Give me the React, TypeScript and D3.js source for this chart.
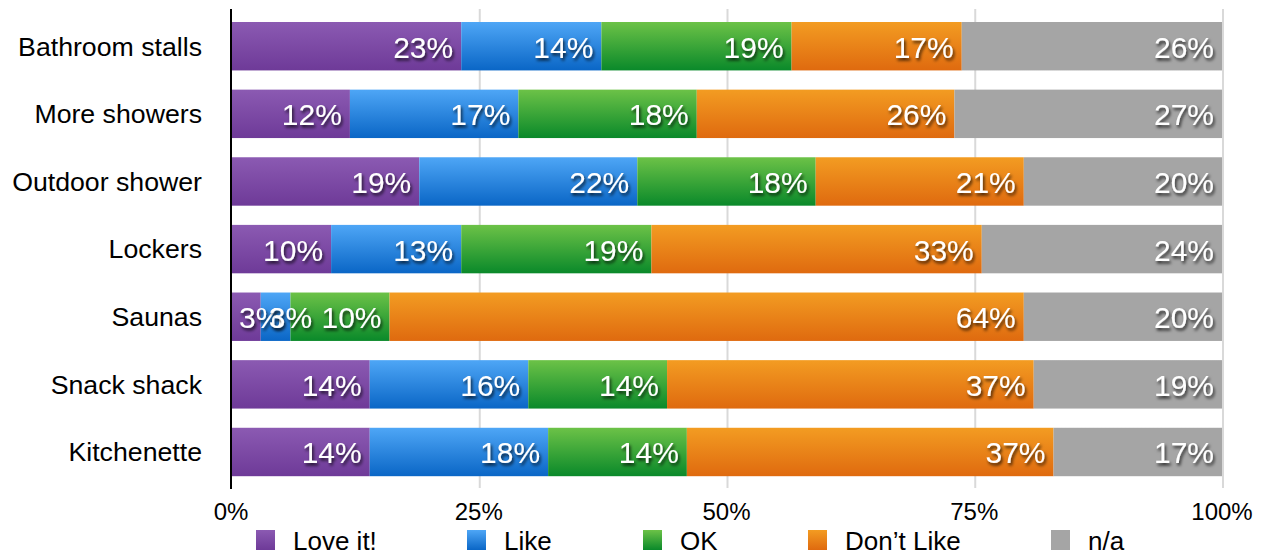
import React from "react";
import * as d3 from "d3";

const categories = ["Bathroom stalls", "More showers", "Outdoor shower", "Lockers", "Saunas", "Snack shack", "Kitchenette"];
const seriesNames = ["Love it!", "Like", "OK", "Don\u2019t Like", "n/a"];
const loveIt = [23, 12, 19, 10, 3, 14, 14];
const like = [14, 17, 22, 13, 3, 16, 18];
const ok = [19, 18, 18, 19, 10, 14, 14];
const dontLike = [17, 26, 21, 33, 64, 37, 37];
const na = [26, 27, 20, 24, 20, 19, 17];
const xTicks = [0, 0.25, 0.5, 0.75, 1];

const seriesValues = [loveIt, like, ok, dontLike, na];
const gradients = [
  ["#8b5ab2", "#6e3a98"],
  ["#4ea6f6", "#0a66c6"],
  ["#6cc247", "#0a892a"],
  ["#f39c22", "#df6a0f"],
  ["#a5a5a5", "#a5a5a5"],
];

const W = 1269;
const H = 554;
const FONT = "'Liberation Sans', Arial, Helvetica, sans-serif";

export default function App() {
  const x = d3.scaleLinear().domain([0, 1]).range([231, 1222]);
  const y = d3.scaleBand<string>().domain(categories).range([12.4, 485.8]).paddingInner(0.284).paddingOuter(0.142);

  const rows = categories.map((c, i) => {
    const vals = seriesValues.map((s) => s[i]);
    const total = d3.sum(vals);
    let acc = 0;
    return vals.map((v, k) => {
      const s0 = acc / total;
      acc += v;
      const s1 = acc / total;
      return { cat: c, k, v, s0, s1 };
    });
  });

  const labelSize = 30;
  const textW = (v: number) => labelSize * (0.556 * String(v).length + 0.889);

  const legendSquares = [256, 467, 643, 808, 1051];

  return (
    <svg width={W} height={H} style={{ position: "absolute", left: 0, top: 0 }} fontFamily={FONT}>
      <defs>
        {gradients.map((g, i) => (
          <linearGradient key={i} id={`g${i}`} x1="0" y1="0" x2="0" y2="1">
            <stop offset="0" stopColor={g[0]} />
            <stop offset="1" stopColor={g[1]} />
          </linearGradient>
        ))}
        <filter id="sh" x="-20%" y="-30%" width="150%" height="170%">
          <feDropShadow dx="1.5" dy="2.5" stdDeviation="1.6" floodColor="#000" floodOpacity="0.75" />
        </filter>
      </defs>
      <rect width={W} height={H} fill="#fff" />
      {xTicks.slice(1).map((t) => (
        <line key={t} x1={x(t) + 1} x2={x(t) + 1} y1={9} y2={488} stroke="#d9d9d9" strokeWidth={2} />
      ))}
      {rows.map((segs, i) =>
        segs.map((s) => (
          <rect
            key={`${i}-${s.k}`}
            x={x(s.s0)}
            y={y(s.cat)}
            width={x(s.s1) - x(s.s0)}
            height={y.bandwidth()}
            fill={`url(#g${s.k})`}
          />
        ))
      )}
      <line x1={231} x2={231} y1={9} y2={489} stroke="#000" strokeWidth={2} />
      {categories.map((c) => (
        <text key={c} x={202} y={(y(c) as number) + y.bandwidth() / 2} dy="0.35em" textAnchor="end" fontSize={26.7} fill="#000">
          {c}
        </text>
      ))}
      {rows.map((segs, i) =>
        segs.map((s) => {
          const xs = x(s.s0);
          const xe = x(s.s1);
          const tx = Math.max(xe - 8, xs + 8 + textW(s.v));
          return (
            <text
              key={`l${i}-${s.k}`}
              x={tx}
              y={(y(s.cat) as number) + y.bandwidth() / 2}
              dy="0.38em"
              textAnchor="end"
              fontSize={labelSize}
              fill="#fff"
              filter="url(#sh)"
            >
              {`${s.v}%`}
            </text>
          );
        })
      )}
      {xTicks.map((t) => (
        <text key={`t${t}`} x={x(t)} y={520} textAnchor="middle" fontSize={24} fill="#000">
          {`${Math.round(t * 100)}%`}
        </text>
      ))}
      {seriesNames.map((n, i) => (
        <g key={n}>
          <rect x={legendSquares[i]} y={530} width={19} height={20} fill={`url(#g${i})`} />
          <text x={legendSquares[i] + 37} y={550} fontSize={26} fill="#000">
            {n}
          </text>
        </g>
      ))}
    </svg>
  );
}
